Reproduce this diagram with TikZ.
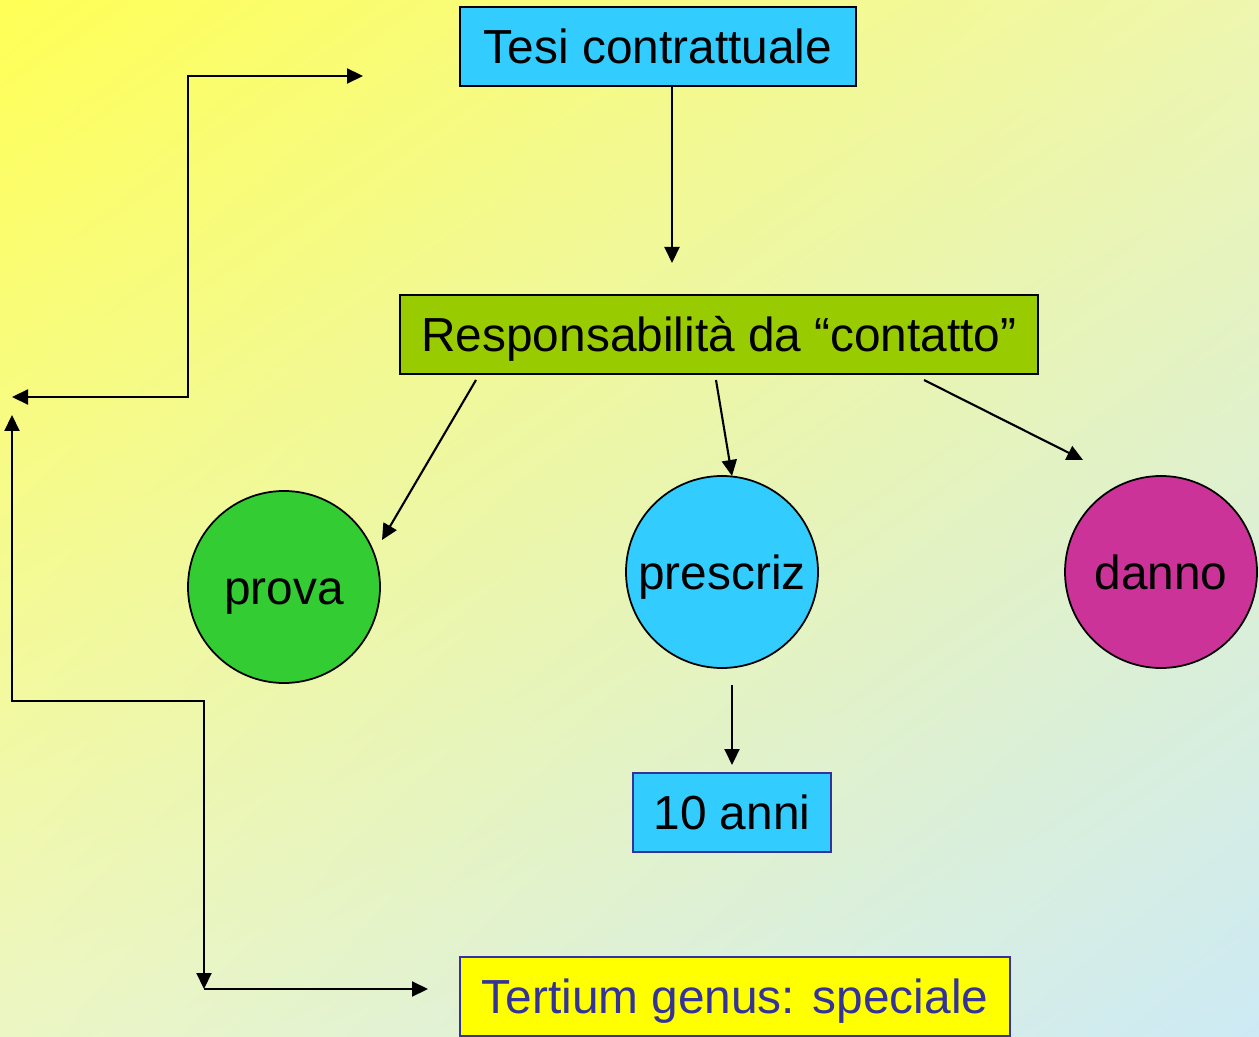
\documentclass[tikz,border=0pt]{standalone}
\usepackage{fontspec}
\setmainfont{Liberation Sans}
\usetikzlibrary{arrows.meta,shadings}

\definecolor{bleu}{RGB}{51,204,255}
\definecolor{verde}{RGB}{153,204,0}
\definecolor{verdeb}{RGB}{51,204,51}
\definecolor{viola}{RGB}{204,51,153}
\definecolor{blu}{RGB}{51,51,153}
\definecolor{giallo}{RGB}{255,255,0}
\definecolor{bgul}{RGB}{255,255,85}
\definecolor{bgur}{RGB}{238,246,175}
\definecolor{bgll}{RGB}{236,246,196}
\definecolor{bglr}{RGB}{205,234,245}

\begin{document}
\begin{tikzpicture}[
    box/.style={draw=black, line width=0.5pt, minimum height=0.79cm, inner sep=0pt,
        text height=0.345cm, text depth=0pt, font=\fontsize{13.6}{16}\selectfont},
    ball/.style={circle, draw=black, line width=0.5pt, minimum size=1.92cm, inner sep=0pt,
        text height=0.345cm, text depth=0pt, font=\fontsize{13.6}{16}\selectfont},
    arr/.style={-{Triangle[length=1.6mm,width=1.5mm]}, line width=0.6pt},
    biarr/.style={{Triangle[length=1.6mm,width=1.5mm]}-{Triangle[length=1.6mm,width=1.5mm]}, line width=0.6pt}
]

% 背景渐变
    \shade[upper left=bgul, upper right=bgur, lower left=bgll, lower right=bglr]
        (0,0) rectangle (12.59,10.36);
    \useasboundingbox (0,0) rectangle (12.59,10.36);

    % 方框
    \node[box, fill=bleu, minimum width=3.96cm] (tesi) at (6.58,9.895) {Tesi contrattuale};
    \node[box, fill=verde, minimum width=6.38cm] (resp) at (7.19,7.015) {Responsabilità da “contatto”};
    \node[box, fill=bleu, draw=blu, minimum width=1.98cm] (anni) at (7.32,2.235) {10 anni};
    \node[box, fill=giallo, draw=blu, text=blu, minimum width=5.50cm] (tertium) at (7.35,0.395) {Tertium genus: speciale};

    % 圆
    \node[ball, fill=verdeb] (prova) at (2.84,4.49) {prova};
    \node[ball, fill=bleu] (prescriz) at (7.22,4.64) {prescriz};
    \node[ball, fill=viola] (danno) at (11.61,4.64) {danno};

    % 箭头端点
    \coordinate (tesi-out) at (6.72,9.50);
    \coordinate (resp-in) at (6.72,7.73);
    \coordinate (resp-a) at (4.76,6.56);
    \coordinate (resp-b) at (7.16,6.56);
    \coordinate (resp-c) at (9.24,6.56);
    \coordinate (prova-in) at (3.82,4.96);
    \coordinate (prescriz-in) at (7.32,5.60);
    \coordinate (danno-in) at (10.83,5.76);
    \coordinate (prescriz-out) at (7.32,3.51);
    \coordinate (anni-in) at (7.32,2.71);

    \draw[arr] (tesi-out) -- (resp-in);
    \draw[arr] (resp-a) -- (prova-in);
    \draw[arr] (resp-b) -- (prescriz-in);
    \draw[arr] (resp-c) -- (danno-in);
    \draw[arr] (prescriz-out) -- (anni-in);

    % 左边的折线
    \coordinate (sx-a) at (0.12,6.39);
    \coordinate (top-a) at (3.63,9.60);
    \coordinate (sx-b) at (0.12,6.21);
    \coordinate (giu) at (2.04,0.47);
    \coordinate (tertium-in) at (4.28,0.47);

    \draw[biarr] (sx-a) -| (1.88,9.60) -- (top-a);
    \draw[biarr] (sx-b) |- (2.04,3.35) -- (giu);
    \draw[arr] (giu) -- (tertium-in);

\end{tikzpicture}
\end{document}
